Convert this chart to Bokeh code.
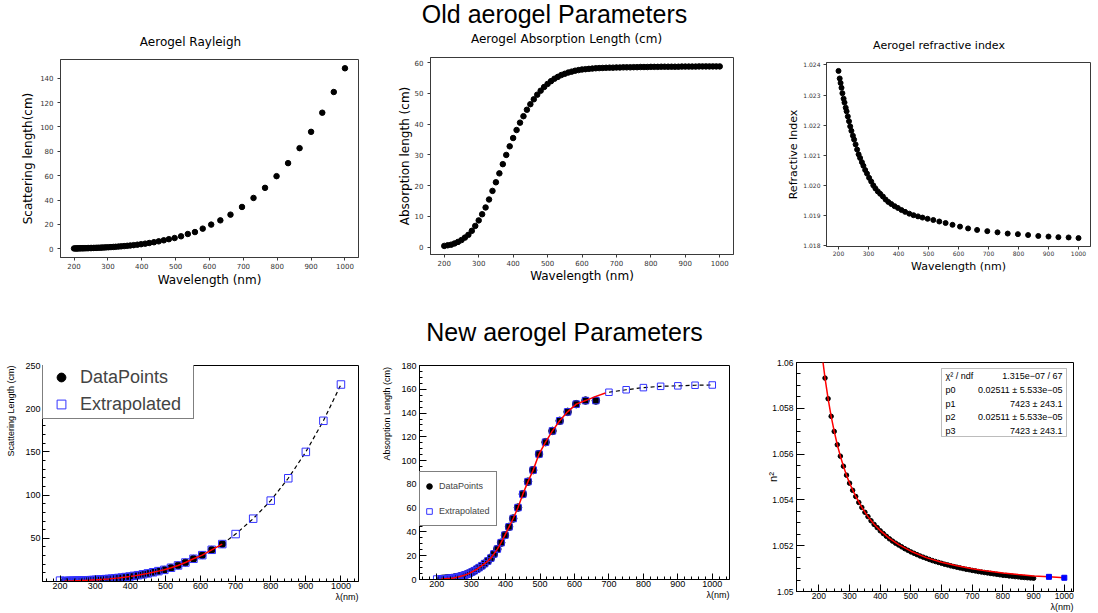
import math
from bokeh.plotting import figure
from bokeh.models import (Range1d, FixedTicker, Label, Legend, LegendItem, Title,
                          BoxAnnotation, PrintfTickFormatter)
from bokeh.layouts import column, row
from bokeh.embed import file_html
from bokeh.resources import INLINE

# ---------------------------------------------------------------- data
old_wl = [200, 204, 207, 210, 213, 217, 220, 224, 227, 231,
          235, 239, 243, 248, 252, 257, 262, 267, 272, 278,
          283, 289, 295, 302, 309, 316, 323, 331, 339, 348,
          357, 366, 376, 387, 398, 410, 422, 436, 450, 465,
          480, 497, 516, 536, 557, 580, 605, 632, 662, 696,
          730, 764, 798, 832, 866, 900, 933, 967, 1000]
old_scatter = [0.24, 0.26, 0.27, 0.29, 0.30, 0.33, 0.35, 0.37, 0.39, 0.42,
               0.45, 0.48, 0.52, 0.56, 0.60, 0.65, 0.70, 0.75, 0.81, 0.88,
               0.95, 1.03, 1.12, 1.24, 1.35, 1.48, 1.61, 1.78, 1.95, 2.17,
               2.41, 2.65, 2.96, 3.32, 3.71, 4.18, 4.70, 5.34, 6.07, 6.92,
               7.85, 8.8, 10.2, 12.1, 13.7, 16.5, 19.8, 23.3, 28.0, 34.3,
               41.7, 50.0, 59.6, 70.3, 82.6, 96.0, 111.7, 128.7, 148.2]
old_rindex = [1.02380, 1.02355, 1.02340, 1.02324, 1.02306, 1.02288, 1.02275, 1.02258, 1.02246, 1.02229,
              1.02213, 1.02196, 1.02181, 1.02165, 1.02152, 1.02136, 1.02119, 1.02103, 1.02091, 1.02077,
              1.02065, 1.02051, 1.02039, 1.02025, 1.02013, 1.02000, 1.01990, 1.01980, 1.01972, 1.01963,
              1.01953, 1.01945, 1.01938, 1.01931, 1.01925, 1.01918, 1.01912, 1.01906, 1.01901, 1.01897,
              1.01893, 1.01889, 1.01885, 1.01880, 1.01875, 1.01869, 1.01863, 1.01857, 1.01852, 1.01848,
              1.01844, 1.01840, 1.01838, 1.01835, 1.01832, 1.01830, 1.01828, 1.01827, 1.01825]

old_abs_wl = [200, 210, 220, 230, 240, 250, 260, 270, 280, 290,
              300, 310, 320, 330, 340, 350, 360, 370, 380, 390,
              400, 410, 420, 430, 440, 450, 460, 470, 480, 490,
              500, 510, 520, 530, 540, 550, 560, 570, 580, 590,
              600, 610, 620, 630, 640, 650, 660, 670, 680, 690,
              700, 710, 720, 730, 740, 750, 760, 770, 780, 790,
              800, 810, 820, 830, 840, 850, 860, 870, 880, 890,
              900, 910, 920, 930, 940, 950, 960, 970, 980, 990, 1000]
old_abs = [0.4, 0.6, 0.8, 1.2, 1.7, 2.3, 3.1, 4.0, 5.3, 6.9,
           8.7, 10.7, 12.9, 15.5, 18.3, 21.1, 24.0, 27.0, 30.0, 32.8,
           35.5, 38.1, 40.5, 42.6, 44.7, 46.5, 48.1, 49.6, 50.9, 52.1,
           53.1, 54.0, 54.8, 55.4, 56.0, 56.4, 56.8, 57.1, 57.4, 57.6,
           57.8, 57.9, 58.0, 58.1, 58.2, 58.25, 58.3, 58.35, 58.4, 58.4,
           58.45, 58.45, 58.5, 58.5, 58.5, 58.55, 58.55, 58.6, 58.6, 58.6,
           58.65, 58.65, 58.65, 58.7, 58.7, 58.7, 58.7, 58.7, 58.7, 58.75,
           58.75, 58.75, 58.75, 58.75, 58.8, 58.8, 58.8, 58.8, 58.8, 58.8, 58.8]

new_wl = [213, 217, 220, 224, 227, 231, 235, 239, 243, 248,
          252, 257, 262, 267, 272, 278, 283, 289, 295, 302,
          309, 316, 323, 331, 339, 348, 357, 366, 376, 387,
          398, 410, 422, 436, 450, 465, 480, 497, 516, 536,
          557, 580, 605, 632, 662]
new_scatter = [0.47, 0.51, 0.54, 0.57, 0.61, 0.65, 0.70, 0.75, 0.80, 0.87,
               0.93, 1.00, 1.08, 1.16, 1.25, 1.36, 1.47, 1.60, 1.75, 1.90,
               2.10, 2.30, 2.50, 2.75, 3.00, 3.35, 3.70, 4.10, 4.60, 5.15,
               5.75, 6.50, 7.30, 8.30, 9.40, 10.7, 12.0, 13.5, 15.9, 18.6,
               22.0, 26.3, 30.5, 36.7, 43.3]
new_absorb = [0.45, 0.5, 0.55, 0.62, 0.7, 0.8, 0.9, 1.0, 1.15, 1.35,
              1.55, 1.8, 2.1, 2.5, 2.9, 3.4, 3.9, 4.5, 5.3, 6.3,
              7.4, 8.6, 10.0, 11.6, 13.4, 15.5, 18.0, 21.5, 25.6, 31.0,
              37.3, 44.3, 51.3, 60.5, 71.8, 82.3, 92.0, 105.5, 115.5, 125.0,
              133.5, 141.0, 147.5, 150.5, 150.5]

ext_wl = [200, 700, 750, 800, 850, 900, 950, 1000]
ext_scatter = [1.0, 54.9, 72.7, 93.6, 119.5, 150.0, 186.0, 228.0]
ext_absorb = [0.4, 157.5, 159.6, 161.4, 162.5, 162.9, 163.4, 163.6]
abs_fit_tail_wl = [662, 690]
abs_fit_tail = [154.0, 156.8]

nsq_wl = [220, 230, 240, 250, 260, 270, 280, 290, 300, 310,
          320, 330, 340, 350, 360, 370, 380, 390, 400, 410,
          420, 430, 440, 450, 460, 470, 480, 490, 500, 510,
          520, 530, 540, 550, 560, 570, 580, 590, 600, 610,
          620, 630, 640, 650, 660, 670, 680, 690, 700, 710,
          720, 730, 740, 750, 760, 770, 780, 790, 800, 810,
          820, 830, 840, 850, 860, 870, 880, 890, 900]
nsq = [1.05932, 1.05842, 1.05765, 1.05699, 1.05641, 1.05591, 1.05547, 1.05508, 1.05473, 1.05442,
       1.05415, 1.05389, 1.05367, 1.05346, 1.05327, 1.05309, 1.05293, 1.05279, 1.05265, 1.05253,
       1.05241, 1.05230, 1.05220, 1.05211, 1.05203, 1.05195, 1.05187, 1.05180, 1.05173, 1.05167,
       1.05161, 1.05155, 1.05150, 1.05145, 1.05140, 1.05135, 1.05131, 1.05127, 1.05123, 1.05119,
       1.05116, 1.05112, 1.05109, 1.05106, 1.05103, 1.05100, 1.05097, 1.05095, 1.05092, 1.05090,
       1.05087, 1.05085, 1.05083, 1.05081, 1.05079, 1.05077, 1.05075, 1.05073, 1.05071, 1.05070,
       1.05068, 1.05067, 1.05065, 1.05064, 1.05062, 1.05061, 1.05060, 1.05059, 1.05058]
nsq_ext_wl = [950, 1000]
nsq_ext = [1.05064, 1.05060]
nsq_fit_wl = [212, 220, 230, 240, 250, 260, 270, 280, 290, 300, 320, 340, 360, 380,
              400, 430, 460, 500, 550, 600, 650, 700, 750, 800, 850, 900, 950, 1000]
nsq_fit = [1.06016, 1.05932, 1.05842, 1.05765, 1.05699, 1.05641, 1.05591, 1.05547, 1.05508,
           1.05473, 1.05415, 1.05367, 1.05327, 1.05294, 1.05266, 1.05232, 1.05205, 1.05176,
           1.05148, 1.05128, 1.05112, 1.05099, 1.05089, 1.05081, 1.05074, 1.05068, 1.05064, 1.05060]

stat_names = ["\u03c7\u00b2 / ndf", "p0", "p1", "p2", "p3"]
stat_values = ["1.315e\u221207 / 67", "0.02511 \u00b1 5.533e\u221205", "7423 \u00b1 243.1",
               "0.02511 \u00b1 5.533e\u221205", "7423 \u00b1 243.1"]

wl_ticks = [200, 300, 400, 500, 600, 700, 800, 900, 1000]
old_sc_ticks = [0, 20, 40, 60, 80, 100, 120, 140]
old_abs_ticks = [0, 10, 20, 30, 40, 50, 60]
old_n_ticks = [1.018, 1.019, 1.020, 1.021, 1.022, 1.023, 1.024]
new_sc_ticks = [50, 100, 150, 200, 250]
new_abs_ticks = [0, 20, 40, 60, 80, 100, 120, 140, 160, 180]
nsq_ticks = [1.05, 1.052, 1.054, 1.056, 1.058, 1.06]

MPL_FONT = "DejaVu Sans"
ROOT_FONT = "Liberation Sans"
BLUE = "#3333ff"
RED = "#ff0000"


# ---------------------------------------------------------------- helpers
def make_panel(x0, y0, bl, bt, fw, fh, br, bb, xr, yr):
    p = figure(width=bl + fw + br, height=bt + fh + bb, frame_width=fw, frame_height=fh,
               x_range=Range1d(*xr), y_range=Range1d(*yr),
               min_border_left=bl, min_border_top=bt, min_border_right=br, min_border_bottom=bb,
               output_backend="svg", toolbar_location=None)
    p.xgrid.visible = False
    p.ygrid.visible = False
    p.background_fill_color = "white"
    p.border_fill_color = "white"
    g = dict(x0=x0, y0=y0, bl=bl, bt=bt, fw=fw, fh=fh, xr=xr, yr=yr)
    return p, g


def to_data(g, X, Y):
    fl = g["x0"] + g["bl"]
    ft = g["y0"] + g["bt"]
    x = g["xr"][0] + (X - fl) / g["fw"] * (g["xr"][1] - g["xr"][0])
    y = g["yr"][1] - (Y - ft) / g["fh"] * (g["yr"][1] - g["yr"][0])
    return x, y


def add_text(p, g, X, Y, text, size, font, align="center", baseline="middle", angle=0.0):
    x, y = to_data(g, X, Y)
    p.add_layout(Label(x=x, y=y, text=text, text_font=font, text_font_size=f"{size}px",
                       text_align=align, text_baseline=baseline, angle=angle,
                       text_color="black"))


def axis_title(ax, text, font, size, standoff):
    ax.axis_label = text
    ax.axis_label_text_font = font
    ax.axis_label_text_font_size = f"{size}px"
    ax.axis_label_text_font_style = "normal"
    ax.axis_label_text_color = "black"
    ax.axis_label_standoff = standoff


def x_title_right(p, text, size):
    t = Title(text=text, align="right", vertical_align="top", standoff=0, offset=0,
              text_font=ROOT_FONT, text_font_size=f"{size}px", text_font_style="normal",
              text_color="black")
    p.add_layout(t, "below")


def style_mpl(p, xt, yt, size, xs, ys, yfmt=None):
    p.outline_line_color = "#3a3a3a"
    xa, ya = p.xaxis[0], p.yaxis[0]
    xa.ticker = FixedTicker(ticks=xt)
    ya.ticker = FixedTicker(ticks=yt)
    if yfmt:
        ya.formatter = PrintfTickFormatter(format=yfmt)
    for ax, st in ((xa, xs), (ya, ys)):
        ax.major_tick_in = 0
        ax.major_tick_out = 3
        ax.minor_tick_line_color = None
        ax.axis_line_color = "#3a3a3a"
        ax.major_tick_line_color = "#3a3a3a"
        ax.major_label_text_font = MPL_FONT
        ax.major_label_text_font_size = f"{size}px"
        ax.major_label_text_color = "#333333"
        ax.major_label_standoff = st


def style_root(p, xt, xminor, yt, yminor, size, xs, ys, xtick, ytick):
    p.outline_line_color = "black"
    xa, ya = p.xaxis[0], p.yaxis[0]
    xa.ticker = FixedTicker(ticks=xt, minor_ticks=xminor)
    ya.ticker = FixedTicker(ticks=yt, minor_ticks=yminor)
    for ax, st, tl in ((xa, xs, xtick), (ya, ys, ytick)):
        ax.major_tick_in = tl
        ax.major_tick_out = 0
        ax.minor_tick_in = tl // 2
        ax.minor_tick_out = 0
        ax.axis_line_color = "black"
        ax.major_tick_line_color = "black"
        ax.minor_tick_line_color = "black"
        ax.major_label_text_font = ROOT_FONT
        ax.major_label_text_font_size = f"{size}px"
        ax.major_label_text_color = "black"
        ax.major_label_standoff = st


def text_strip(x0, w, y0, h):
    """A figure without axes whose whole area is the frame; coordinates are page pixels."""
    p = figure(width=w, height=h, x_range=Range1d(x0, x0 + w), y_range=Range1d(y0 + h, y0),
               x_axis_location=None, y_axis_location=None, min_border=0,
               output_backend="svg", toolbar_location=None)
    p.outline_line_color = None
    p.xgrid.visible = False
    p.ygrid.visible = False
    return p


def strip_text(p, X, Y, text, size, font, align="center", angle=0.0):
    p.add_layout(Label(x=X, y=Y, text=text, text_font=font, text_font_size=f"{size}px",
                       text_align=align, text_baseline="middle", angle=angle,
                       text_color="black"))


# ---------------------------------------------------------------- headers (page coords)
h1 = text_strip(0, 1098, 0, 52)
strip_text(h1, 554, 13, "Old aerogel Parameters", 25, ROOT_FONT)
strip_text(h1, 190, 41.3, "Aerogel Rayleigh", 12, MPL_FONT)
strip_text(h1, 566, 38.3, "Aerogel Absorption Length (cm)", 12, MPL_FONT)
strip_text(h1, 938.5, 45.2, "Aerogel refractive index", 11, MPL_FONT)

h2 = text_strip(0, 1098, 290, 60)
strip_text(h2, 564, 331.6, "New aerogel Parameters", 25, ROOT_FONT)

# ---------------------------------------------------------------- panel 1
p1, g1 = make_panel(0, 52, 60, 7, 298, 198, 12, 33, (160, 1040), (-7.2, 155.4))
style_mpl(p1, wl_ticks, old_sc_ticks, 7, 2, 4)
p1.scatter(old_wl, old_scatter, size=5.5, color="black")
axis_title(p1.xaxis[0], "Wavelength (nm)", MPL_FONT, 12, 1)
axis_title(p1.yaxis[0], "Scattering length(cm)", MPL_FONT, 12, 2)

# ---------------------------------------------------------------- panel 2
p2, g2 = make_panel(370, 52, 60, 5, 303, 197, 7, 36, (160, 1040), (-2.4, 61.7))
style_mpl(p2, wl_ticks, old_abs_ticks, 7, 2, 4)
p2.scatter(old_abs_wl, old_abs, size=5.5, color="black")
axis_title(p2.xaxis[0], "Wavelength (nm)", MPL_FONT, 12, 0)
axis_title(p2.yaxis[0], "Absorption length (cm)", MPL_FONT, 12, 0)

# ---------------------------------------------------------------- panel 3
p3, g3 = make_panel(740, 52, 86, 10, 264, 184, 8, 44, (160, 1040), (1.01797, 1.02408))
style_mpl(p3, wl_ticks, old_n_ticks, 6, 1, 3, yfmt="%.3f")
p3.scatter(old_wl, old_rindex, size=5, color="black")
axis_title(p3.xaxis[0], "Wavelength (nm)", MPL_FONT, 11, 1)
axis_title(p3.yaxis[0], "Refractive Index", MPL_FONT, 11, 0)

# ---------------------------------------------------------------- panel 4
s4 = text_strip(0, 22, 350, 263)
strip_text(s4, 10.4, 365, "Scattering Length (cm)", 9, ROOT_FONT, align="right",
           angle=math.pi / 2)
p4, g4 = make_panel(22, 350, 20, 15, 316, 216, 12, 32, (150, 1050), (0, 250))
style_root(p4, wl_ticks, list(range(160, 1050, 20)), new_sc_ticks, list(range(0, 251, 10)),
           9, 1, 2, 6, 7)
p4.line([new_wl[-1]] + ext_wl[1:], [new_scatter[-1]] + ext_scatter[1:],
        line_color="black", line_width=1.2, line_dash="4 3")
dp4 = p4.scatter(new_wl, new_scatter, size=7, color="black")
p4.scatter(new_wl, new_scatter, size=7.5, marker="square", fill_color=None,
           line_color=BLUE, line_width=1)
ex4 = p4.scatter(ext_wl, ext_scatter, size=7.5, marker="square", fill_color=None,
                 line_color=BLUE, line_width=1)
p4.line(new_wl, new_scatter, line_color=RED, line_width=1.5)
l4a = p4.line([], [], line_color="black", line_width=1)
l4b = p4.line([], [], line_color=BLUE, line_width=1)
leg4 = Legend(items=[LegendItem(label="DataPoints", renderers=[l4a, dp4]),
                     LegendItem(label="Extrapolated", renderers=[l4b, ex4])],
              location=(0, 162), margin=0, padding=3, spacing=5,
              glyph_width=30, glyph_height=22, label_height=22, label_width=110,
              label_standoff=4, label_text_font=ROOT_FONT, label_text_font_size="18px",
              border_line_color="black", border_line_width=1,
              background_fill_color="white", background_fill_alpha=1.0)
p4.add_layout(leg4)
x_title_right(p4, "\u03bb(nm)", 9)

# ---------------------------------------------------------------- panel 5
s5 = text_strip(370, 28, 350, 263)
strip_text(s5, 386.9, 366.5, "Absorption Length (cm)", 9, ROOT_FONT, align="right",
           angle=math.pi / 2)
p5, g5 = make_panel(398, 350, 20, 15, 310, 214, 12, 34, (150, 1050), (0, 180))
style_root(p5, wl_ticks, list(range(160, 1050, 20)), new_abs_ticks, list(range(0, 181, 5)),
           9, 1, 3, 6, 7)
p5.line(ext_wl[1:], ext_absorb[1:], line_color="black", line_width=1.2, line_dash="4 3")
dp5 = p5.scatter(new_wl, new_absorb, size=7.5, color="black")
p5.scatter(new_wl, new_absorb, size=6.5, marker="square", fill_color=None,
           line_color=BLUE, line_width=1)
ex5 = p5.scatter(ext_wl, ext_absorb, size=6.5, marker="square", fill_color=None,
                 line_color=BLUE, line_width=1)
p5.line(new_wl[:-1] + abs_fit_tail_wl, new_absorb[:-1] + abs_fit_tail,
        line_color=RED, line_width=1.5)
l5a = p5.line([], [], line_color="black", line_width=1)
l5b = p5.line([], [], line_color=BLUE, line_width=1)
leg5 = Legend(items=[LegendItem(label="DataPoints", renderers=[l5a, dp5]),
                     LegendItem(label="Extrapolated", renderers=[l5b, ex5])],
              location=(0, 53), margin=0, padding=2, spacing=1,
              glyph_width=14, glyph_height=24, label_height=24, label_width=55,
              label_standoff=3, label_text_font=ROOT_FONT, label_text_font_size="9px",
              border_line_color="black", border_line_width=1,
              background_fill_color="white", background_fill_alpha=1.0)
p5.add_layout(leg5)
x_title_right(p5, "\u03bb(nm)", 9)

# ---------------------------------------------------------------- panel 6
p6, g6 = make_panel(740, 350, 55, 12, 277, 229, 26, 22, (127, 1030), (1.05, 1.06))
style_root(p6, wl_ticks, list(range(150, 1030, 25)), nsq_ticks,
           [1.05 + 0.0005 * i for i in range(21)], 8.5, 1, 3, 7, 8)
p6.yaxis[0].formatter = PrintfTickFormatter(format="%.3f")
p6.yaxis[0].major_label_overrides = {1.05: "1.05", 1.06: "1.06"}
p6.scatter(nsq_wl, nsq, size=4.5, color="black")
p6.line(nsq_fit_wl, nsq_fit, line_color=RED, line_width=1.5)
p6.scatter(nsq_ext_wl, nsq_ext, size=5, marker="square", color="#0000ff")
bx0, by0 = to_data(g6, 940, 368)
bx1, by1 = to_data(g6, 1065, 436)
p6.add_layout(BoxAnnotation(left=bx0, right=bx1, top=by0, bottom=by1,
                            fill_color="white", fill_alpha=1.0,
                            line_color="#222222", line_width=1))
row_y = [375.7, 389.3, 403.0, 416.3, 430.0]
for name, val, yy in zip(stat_names, stat_values, row_y):
    add_text(p6, g6, 944, yy, name, 9, ROOT_FONT, align="left")
    add_text(p6, g6, 1061, yy, val, 9, ROOT_FONT, align="right")
x_title_right(p6, "\u03bb(nm)", 9)
axis_title(p6.yaxis[0], "n\u00b2", ROOT_FONT, 11, -10)

layout = column(h1,
                row(column(p1), column(p2), column(p3)),
                h2,
                row(column(s4), column(p4), column(s5), column(p5), column(p6)))
open("out.html", "w").write(file_html(layout, INLINE, "Aerogel Parameters"))
